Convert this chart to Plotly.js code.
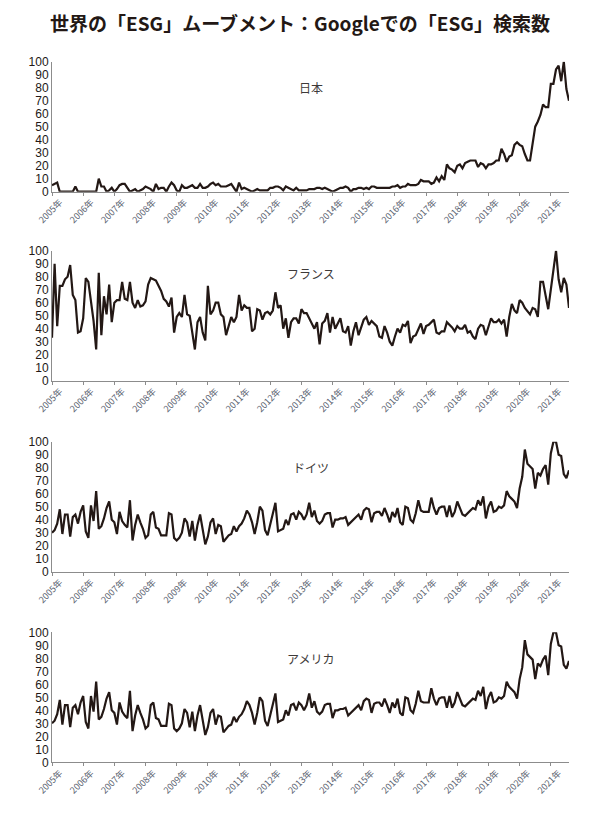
<!DOCTYPE html>
<html>
<head>
<meta charset="utf-8">
<script src="https://cdn.plot.ly/plotly-3.0.1.min.js"></script>
<style>
html,body{margin:0;padding:0;background:#fff;}
#chart{width:600px;height:815px;}
</style>
</head>
<body>
<div id="chart"></div>
<script>
// ---- Data (Google Trends, monthly, Jan 2005 – Aug 2021) ----
var titleText = '世界の「ESG」ムーブメント：Googleでの「ESG」検索数';
var panelNames = ['日本', 'フランス', 'ドイツ', 'アメリカ'];
var yearLabels = ['2005年','2006年','2007年','2008年','2009年','2010年','2011年','2012年','2013年','2014年','2015年','2016年','2017年','2018年','2019年','2020年','2021年'];

var japan = [
 5,6,7,0,0,0,0,0,0,4,
 0,0,0,0,0,0,0,0,10,4,
 4,0,1,3,0,2,5,6,6,3,
 0,1,2,0,1,2,4,3,2,0,
 6,2,3,3,0,4,7,5,1,0,
 5,3,3,4,5,3,3,6,3,3,
 4,6,7,5,6,4,4,4,5,6,
 3,0,7,2,3,2,1,0,1,2,
 1,1,1,1,3,3,4,4,3,1,
 4,3,2,1,3,1,1,1,1,2,
 2,2,3,3,2,3,2,1,0,1,
 2,3,3,4,3,0,2,2,3,3,
 2,3,2,4,4,3,3,3,3,3,
 3,4,4,5,3,4,4,6,5,5,
 5,6,9,8,8,8,6,7,11,8,
 12,9,21,18,17,15,20,21,18,22,
 23,24,24,24,19,22,21,18,21,21,
 22,24,24,33,29,23,27,28,36,38,
 36,35,29,24,24,38,50,54,59,67,
 65,65,83,83,94,97,85,100,79,70
];

var france = [
 33,90,42,73,73,78,80,89,66,62,
 37,38,48,79,76,60,46,24,83,35,
 65,51,74,45,60,62,62,76,63,62,
 76,60,56,62,57,58,61,74,79,78,
 77,73,69,63,61,57,64,37,49,52,
 49,66,51,50,38,24,45,49,37,31,
 73,51,54,60,60,51,49,35,42,49,
 45,49,66,54,58,56,56,38,40,55,
 54,47,52,53,51,54,68,56,58,40,
 48,33,45,48,48,44,55,52,52,48,
 44,40,45,28,44,46,52,37,49,40,
 44,48,38,37,42,27,38,45,35,42,
 47,49,43,46,44,42,34,33,42,37,
 30,27,34,40,37,43,42,46,29,34,
 35,40,44,36,42,43,45,47,37,36,
 38,38,45,43,41,38,42,40,40,43,
 37,38,34,32,40,43,42,35,41,48,
 45,45,47,44,47,34,49,59,54,52,
 62,60,56,53,51,56,55,49,76,76,
 66,55,70,85,100,78,68,79,74,56
];

var germany = [
 30,32,37,48,29,44,44,27,42,44,
 37,46,51,31,26,51,39,62,33,35,
 41,49,54,40,38,29,46,39,36,34,
 55,24,36,44,38,33,26,28,44,46,
 34,33,28,28,28,45,44,26,24,26,
 30,41,38,27,39,24,36,44,32,21,
 27,38,41,29,36,35,23,26,28,29,
 35,31,35,37,41,47,44,38,29,38,
 50,47,32,28,36,45,53,31,32,33,
 40,36,44,45,40,46,44,40,44,53,
 42,47,39,37,39,44,45,45,34,40,
 40,41,41,42,36,38,40,42,44,40,
 47,49,48,38,45,46,46,43,49,44,
 38,46,42,49,38,36,50,49,40,38,
 45,55,47,46,46,46,57,49,44,49,
 50,50,42,51,42,46,54,49,44,43,
 45,47,49,48,55,51,58,41,50,54,
 46,47,50,49,51,62,58,56,54,49,
 64,73,94,83,81,79,64,76,74,79,
 82,67,91,100,100,90,89,75,72,78
];

var usa = [
 30,32,37,48,29,44,44,27,42,44,
 37,46,51,31,26,51,39,62,33,35,
 41,49,54,40,38,29,46,39,36,34,
 55,24,36,44,38,33,26,28,44,46,
 34,33,28,28,28,45,44,26,24,26,
 30,41,38,27,39,24,36,44,32,21,
 27,38,41,29,36,35,23,26,28,29,
 35,31,35,37,41,47,44,38,29,38,
 50,47,32,28,36,45,53,31,32,33,
 40,36,44,45,40,46,44,40,44,53,
 42,47,39,37,39,44,45,45,34,40,
 40,41,41,42,36,38,40,42,44,40,
 47,49,48,38,45,46,46,43,49,44,
 38,46,42,49,38,36,50,49,40,38,
 45,55,47,46,46,46,57,49,44,49,
 50,50,42,51,42,46,54,49,44,43,
 45,47,49,48,55,51,58,41,50,54,
 46,47,50,49,51,62,58,56,54,49,
 64,73,94,83,81,79,64,76,74,79,
 82,67,91,100,100,90,89,75,72,78
];

// month categories
var months = [];
for (var yy = 2005; months.length < japan.length; yy++) {
  for (var mm = 1; mm <= 12 && months.length < japan.length; mm++) {
    months.push(yy + '-' + (mm < 10 ? '0' + mm : mm));
  }
}
var yearTickVals = yearLabels.map(function (l) { return l.slice(0, 4) + '-01'; });

var seriesList = [japan, france, germany, usa];

// ---- Layout geometry ----
var H = 815;
var panelPx = [[61.7, 191.7], [250.7, 380.7], [441.7, 571.7], [632.3, 762.3]];
var labelY = [87, 273, 467, 658];
var lineColor = '#231815';
var axisColor = '#8c8c8c';

var traces = [];
var layout = {
  width: 600, height: H,
  margin: {l: 52, r: 31, t: 0, b: 0, pad: 0},
  paper_bgcolor: '#ffffff', plot_bgcolor: '#ffffff',
  showlegend: false,
  title: {
    text: titleText,
    font: {family: '"Noto Sans CJK JP", sans-serif', size: 19, color: '#231815', weight: 'bold'},
    x: 0.5, xref: 'container', xanchor: 'center',
    y: 1 - 24 / H, yref: 'container', yanchor: 'middle'
  },
  annotations: []
};

seriesList.forEach(function (vals, k) {
  var n = k + 1;
  var xa = 'x' + (n === 1 ? '' : n);
  var ya = 'y' + (n === 1 ? '' : n);
  traces.push({
    type: 'scatter', mode: 'lines',
    x: months, y: vals,
    xaxis: xa, yaxis: ya,
    line: {color: lineColor, width: 2.2},
    hoverinfo: 'x+y'
  });
  var top = panelPx[k][0], bot = panelPx[k][1];
  layout['xaxis' + (n === 1 ? '' : n)] = {
    type: 'category',
    anchor: ya,
    domain: [0, 1],
    range: [0, months.length - 1],
    tickmode: 'array', tickvals: yearTickVals, ticktext: yearLabels,
    tickangle: -45,
    ticklabelshift: 8,
    ticklabelstandoff: -2,
    tickfont: {family: '"Noto Sans CJK JP", sans-serif', size: 9, color: '#5a6270'},
    ticks: 'outside', ticklen: 3, tickwidth: 1, tickcolor: axisColor,
    showline: true, linecolor: axisColor, linewidth: 1,
    showgrid: false, zeroline: false, fixedrange: true
  };
  layout['yaxis' + (n === 1 ? '' : n)] = {
    anchor: xa,
    domain: [1 - bot / H, 1 - top / H],
    range: [0, 100],
    tickmode: 'array', tickvals: [0,10,20,30,40,50,60,70,80,90,100],
    tickfont: {family: '"Liberation Sans", Arial, sans-serif', size: 12, color: '#231815'},
    ticks: '', showline: true, linecolor: axisColor, linewidth: 1,
    showgrid: false, zeroline: false, fixedrange: true
  };
  layout.annotations.push({
    text: panelNames[k], xref: 'paper', yref: 'paper',
    x: 0.5, y: 1 - labelY[k] / H, xanchor: 'center', yanchor: 'middle',
    showarrow: false,
    font: {family: '"Noto Sans CJK JP", sans-serif', size: 12, color: '#3e3a39'}
  });
});

Plotly.newPlot('chart', traces, layout, {displayModeBar: false, staticPlot: true});
</script>
</body>
</html>
